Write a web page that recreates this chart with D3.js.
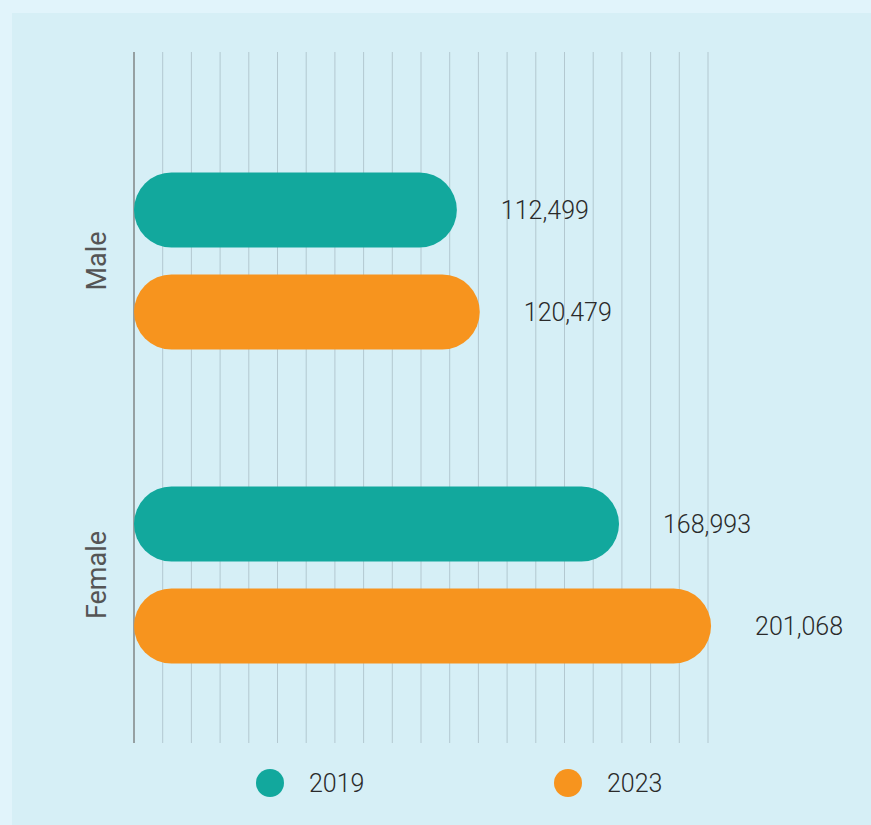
<!DOCTYPE html>
<html>
<head>
<meta charset="utf-8">
<script src="https://cdn.jsdelivr.net/npm/d3@7"></script>
<style>
  html, body { margin: 0; padding: 0; background: #e1f4fb; }
  svg { display: block; }
</style>
</head>
<body>
<div id="chart"></div>
<script>
const genders = ['Male', 'Female']
const years = ['2019', '2023']
const values2019 = [112499, 168993]
const values2023 = [120479, 201068]
const gridTicks = d3.range(0, 200001, 10000)

const colors = { '2019': '#12a89d', '2023': '#f7941e' }
const width = 871
const height = 825

const svg = d3.select('#chart').append('svg')
  .attr('width', width)
  .attr('height', height)

// panel
svg.append('rect')
  .attr('x', 12).attr('y', 13)
  .attr('width', width - 12).attr('height', height - 13)
  .attr('fill', '#d6eff6')

const plotTop = 52
const plotBottom = 743

const xScale = d3.scaleLinear().domain([0, 200000]).range([134, 708])

const yOuter = d3.scaleBand().domain(genders).range([104, 732])
const yInner = d3.scaleBand().domain(years)
  .range([68.5, 245.5])
  .paddingInner(27 / 102)
  .paddingOuter(0)

// grid
svg.append('g')
  .selectAll('line')
  .data(gridTicks.slice(1))
  .join('line')
  .attr('x1', (d) => xScale(d)).attr('x2', (d) => xScale(d))
  .attr('y1', plotTop).attr('y2', plotBottom)
  .attr('stroke', '#b3c8d0')
  .attr('stroke-width', 1)

// left axis line
svg.append('line')
  .attr('x1', xScale(0)).attr('x2', xScale(0))
  .attr('y1', plotTop).attr('y2', plotBottom)
  .attr('stroke', '#6b6b6b')
  .attr('stroke-width', 1.2)

const rows = []
genders.forEach((g, i) => {
  rows.push({ gender: g, year: '2019', value: values2019[i] })
  rows.push({ gender: g, year: '2023', value: values2023[i] })
})

const barH = yInner.bandwidth()

const bars = svg.append('g')
  .selectAll('g')
  .data(rows)
  .join('g')
  .attr('transform', (d) => `translate(0,${yOuter(d.gender) + yInner(d.year)})`)

bars.append('rect')
  .attr('x', xScale(0))
  .attr('y', 0)
  .attr('width', (d) => xScale(d.value) - xScale(0))
  .attr('height', barH)
  .attr('rx', barH / 2)
  .attr('fill', (d) => colors[d.year])

bars.append('text')
  .attr('x', (d) => xScale(d.value) + 44)
  .attr('y', barH / 2)
  .attr('dy', '0.35em')
  .attr('font-family', 'Roboto, sans-serif')
  .attr('font-weight', 300)
  .attr('font-size', 25)
  .attr('fill', '#2a2a2a')
  .text((d) => d3.format(',')(d.value))

// category labels
svg.append('g')
  .selectAll('text')
  .data(genders)
  .join('text')
  .attr('transform', (d) => `translate(97,${yOuter(d) + yOuter.bandwidth() / 2}) rotate(-90)`)
  .attr('text-anchor', 'middle')
  .attr('dy', '0.35em')
  .attr('font-family', 'Roboto, sans-serif')
  .attr('font-size', 27)
  .attr('fill', '#555')
  .text((d) => d)

// legend
const legendX = d3.scalePoint().domain(years).range([270, 568])
const legend = svg.append('g')
  .selectAll('g')
  .data(years)
  .join('g')
  .attr('transform', (d) => `translate(${legendX(d)},783)`)

legend.append('circle')
  .attr('r', 14)
  .attr('fill', (d) => colors[d])

legend.append('text')
  .attr('x', 39)
  .attr('dy', '0.35em')
  .attr('font-family', 'Roboto, sans-serif')
  .attr('font-weight', 300)
  .attr('font-size', 25)
  .attr('fill', '#2a2a2a')
  .text((d) => d)
</script>
</body>
</html>
